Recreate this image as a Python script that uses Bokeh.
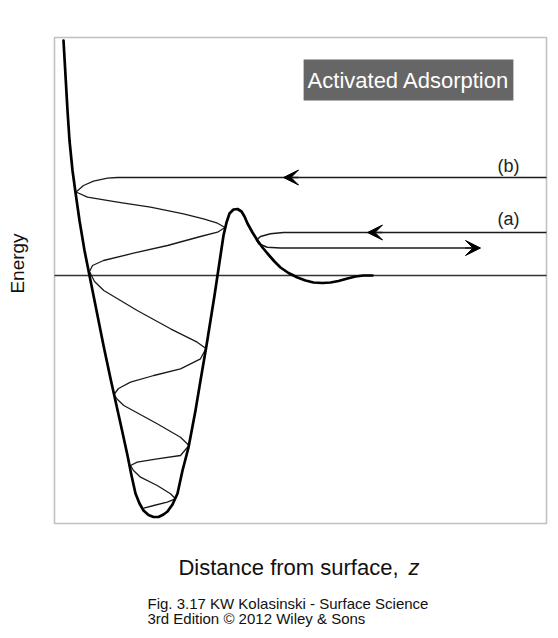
from bokeh.plotting import figure
from bokeh.models import Range1d, Label, Arrow, VeeHead, BoxAnnotation
from bokeh.embed import file_html
from bokeh.resources import INLINE

# ---- data (z = distance, E = energy, arbitrary units) ----
pot_z = [0.9, 1.1, 1.3, 1.5, 1.8, 2.1, 2.5, 3.0, 3.6, 4.2, 4.9, 5.6, 6.2, 6.8, 7.3, 7.7,
         8.1, 8.5, 8.9, 9.4, 9.9, 10.4, 10.9, 11.3, 11.8, 12.3, 12.8, 13.4, 14.1, 14.6,
         15.2, 15.6, 16.0, 16.3, 16.6, 16.9, 17.2, 17.5, 17.9, 18.3, 18.7, 19.0, 19.3,
         19.8, 20.3, 20.8, 21.3, 22.0, 22.6, 23.4, 24.3, 25.1, 25.9, 26.8, 27.6, 28.4,
         29.3, 30.1, 30.9, 31.8]
pot_E = [23.5, 20.0, 16.5, 13.5, 10.5, 8.3, 5.5, 2.5, -0.5, -3.5, -7.0, -10.3, -13.0,
         -15.7, -18.0, -20.0, -21.8, -22.8, -23.5, -23.95, -24.15, -24.15, -23.9, -23.6,
         -22.9, -21.8, -19.5, -17.2, -13.5, -10.5, -7.0, -4.5, -2.0, 0.0, 2.0, 4.0, 5.3,
         6.2, 6.6, 6.65, 6.4, 5.9, 5.2, 4.3, 3.5, 2.8, 2.2, 1.4, 0.8, 0.25, -0.2, -0.5,
         -0.7, -0.75, -0.7, -0.55, -0.3, -0.1, 0.0, 0.0]

# trajectory (b): comes in from the right, trapped in the well
wave_b_z = [49.2, 6.3, 5.3, 3.9, 2.9, 2.15, 3.3, 6.3, 9.6, 12.9, 14.9, 16.3, 17.05, 16.3,
            14.6, 11.3, 7.9, 4.9, 3.8, 3.5, 4.0, 4.93, 8.27, 11.6, 14.27, 15.15, 14.6,
            12.6, 9.93, 7.6, 6.4, 5.95, 6.3, 6.93, 10.27, 12.6, 13.45, 12.6, 10.27, 8.27,
            7.6, 7.9, 8.6, 10.27, 11.6, 12.1, 11.27, 9.93, 8.93]
wave_b_E = [9.8, 9.8, 9.73, 9.43, 9.0, 8.35, 7.83, 7.33, 6.83, 6.17, 5.67, 5.23, 4.8, 4.33,
            3.9, 3.0, 2.23, 1.5, 1.0, 0.4, -0.6, -1.5, -3.5, -5.33, -6.67, -7.3, -8.33,
            -9.33, -10.0, -10.67, -11.3, -11.9, -12.4, -13.0, -14.83, -16.17, -17.0, -18.0,
            -18.33, -18.67, -19.0, -19.5, -20.17, -21.0, -21.83, -22.33, -22.67, -23.0,
            -23.27]

# trajectory (a): reflected by the barrier
path_a_z = [49.2, 22.9, 21.6, 20.6, 20.2, 20.43, 21.27, 22.6, 41.8]
path_a_E = [4.3, 4.3, 4.17, 3.9, 3.55, 3.17, 2.83, 2.75, 2.75]

arrow_tip_z = [22.9, 31.3, 42.6]
arrow_tip_E = [9.8, 4.3, 2.75]
arrow_dir = [-1, -1, 1]

level_labels = ["(b)", "(a)"]
level_label_z = [45.4, 45.4]
level_label_E = [10.95, 5.7]

# plotted region (box) and E = 0 reference
box_z = [0.0, 49.2]
box_E = [-24.8, 23.8]

FONT = "Liberation Sans"

p = figure(width=558, height=638, output_backend="svg", toolbar_location=None,
           title=None, x_range=Range1d(-5.4, 50.4), y_range=Range1d(-36.3, 27.5),
           min_border=0)
p.xaxis.visible = False
p.yaxis.visible = False
p.grid.visible = False
p.outline_line_color = None
p.background_fill_color = "white"
p.border_fill_color = "white"

p.add_layout(BoxAnnotation(left=box_z[0], right=box_z[1], bottom=box_E[0], top=box_E[1],
                           fill_alpha=0, line_color="#333333", line_width=1.6))
p.line(box_z, [0, 0], line_color="#333333", line_width=1.5)

p.line(wave_b_z, wave_b_E, line_color="#1a1a1a", line_width=1.3, line_join="round")
p.line(path_a_z, path_a_E, line_color="#1a1a1a", line_width=1.6, line_join="round")
p.line(pot_z, pot_E, line_color="black", line_width=2.7, line_join="round", line_cap="round")

for tz, te, d in zip(arrow_tip_z, arrow_tip_E, arrow_dir):
    p.add_layout(Arrow(end=VeeHead(size=15, fill_color="black", line_color="black", line_width=1),
                       x_start=tz - d * 1.5, y_start=te, x_end=tz, y_end=te,
                       line_color="#1a1a1a", line_width=1.6))

for t, z, e in zip(level_labels, level_label_z, level_label_E):
    p.add_layout(Label(x=z, y=e, text=t, text_align="center", text_baseline="middle",
                       text_font=FONT, text_font_size="18px", text_color="#222222"))

p.add_layout(Label(x=35.4, y=19.55, text="Activated Adsorption", text_align="center",
                   text_baseline="middle", text_font=FONT, text_font_size="22px",
                   text_color="white", background_fill_color="#666666", padding=(4, 8)))

# axis titles and caption
p.add_layout(Label(x=-3.7, y=1.2, text="Energy", angle=90, angle_units="deg",
                   text_align="center", text_baseline="middle", text_font=FONT,
                   text_font_size="19px", text_color="#111111"))
p.add_layout(Label(x=34.4, y=-29.2, text="Distance from surface,", text_align="right",
                   text_baseline="alphabetic", text_font=FONT, text_font_size="22px",
                   text_color="#111111"))
p.add_layout(Label(x=35.4, y=-29.2, text="z", text_align="left", text_baseline="alphabetic",
                   text_font=FONT, text_font_size="22px", text_font_style="italic",
                   text_color="#111111"))
p.add_layout(Label(x=9.3, y=-32.8, text="Fig. 3.17 KW Kolasinski - Surface Science",
                   text_align="left", text_baseline="alphabetic", text_font=FONT,
                   text_font_size="15px", text_color="#111111"))
p.add_layout(Label(x=9.3, y=-34.3, text="3rd Edition \u00a9 2012 Wiley & Sons",
                   text_align="left", text_baseline="alphabetic", text_font=FONT,
                   text_font_size="15px", text_color="#111111"))

open("out.html", "w").write(file_html(p, INLINE))
